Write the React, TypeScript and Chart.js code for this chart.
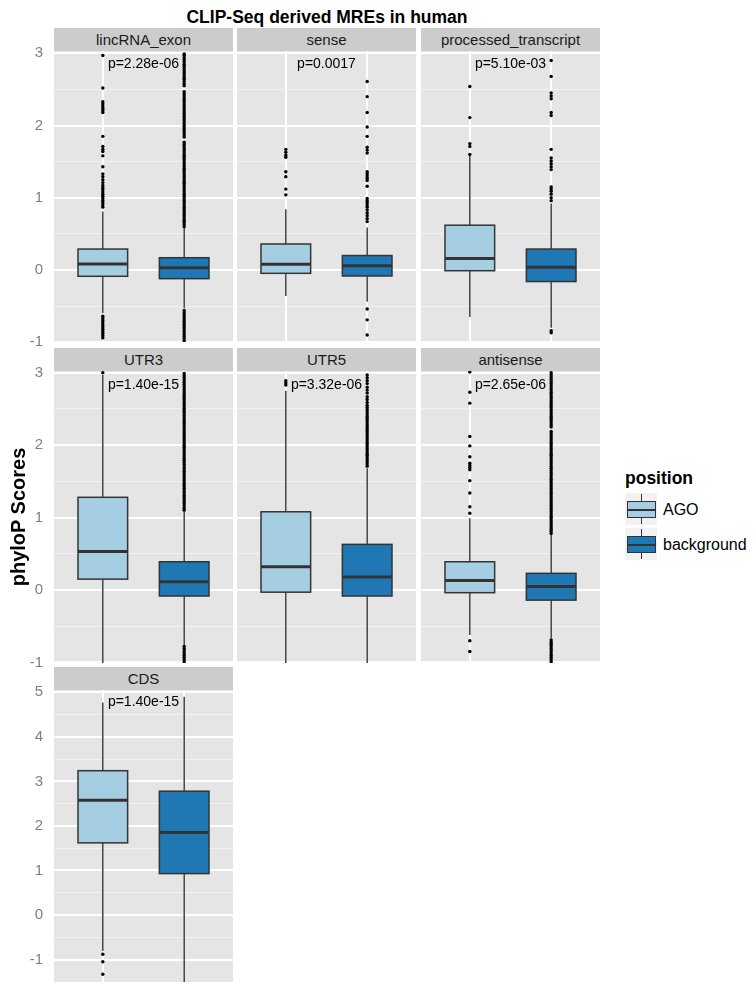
import React, { useEffect, useRef } from 'react';
import { Chart, registerables } from 'chart.js';

Chart.register(...registerables);

const FONT = '"Liberation Sans", Arial, Helvetica, sans-serif';

// ---------------- DATA ----------------
const chartTitle = 'CLIP-Seq derived MREs in human';
const yAxisTitle = 'phyloP Scores';
const legendTitle = 'position';
const groups = ['AGO', 'background'];

const panelNames = ['lincRNA_exon', 'sense', 'processed_transcript', 'UTR3', 'UTR5', 'antisense', 'CDS'];
const pValueLabels = ['p=2.28e-06', 'p=0.0017', 'p=5.10e-03', 'p=1.40e-15', 'p=3.32e-06', 'p=2.65e-06', 'p=1.40e-15'];
const pValueY = [2.85, 2.85, 2.85, 2.83, 2.83, 2.83, 4.79];

// [lower whisker, Q1, median, Q3, upper whisker]
const agoBoxes = [
  [-0.6, -0.087, 0.083, 0.29, 0.81],
  [-0.36, -0.046, 0.079, 0.36, 0.84],
  [-0.65, -0.01, 0.16, 0.62, 1.58],
  [-1.6, 0.15, 0.53, 1.28, 2.97],
  [-1.6, -0.03, 0.32, 1.08, 2.75],
  [-0.62, -0.037, 0.13, 0.39, 0.99],
  [-0.81, 1.62, 2.575, 3.24, 4.77],
];
const bgBoxes = [
  [-0.53, -0.12, 0.03, 0.17, 0.58],
  [-0.44, -0.083, 0.06, 0.2, 0.59],
  [-0.8, -0.16, 0.037, 0.29, 0.92],
  [-0.76, -0.083, 0.115, 0.39, 1.08],
  [-1.2, -0.083, 0.18, 0.63, 1.68],
  [-0.67, -0.14, 0.05, 0.23, 0.76],
  [-1.9, 0.93, 1.85, 2.78, 4.9],
];

const lincAgoOutliers = [2.97, 2.52, 2.33, 2.3, 2.27, 2.24, 2.21, 2.18, 1.85, 1.71, 1.67, 1.64, 1.58, 1.43, 1.33, 1.29, 1.25, 1.21, 1.17, 1.14, 1.11, 1.08, 1.05, 1.02, 0.99, 0.96, 0.93, 0.9, 0.87, -0.64, -0.67, -0.7, -0.73, -0.76, -0.79, -0.82, -0.85, -0.88, -0.91, -0.94];
const lincBgOutliers = [0.6, 0.63, 0.66, 0.69, 0.72, 0.75, 0.78, 0.81, 0.84, 0.87, 0.9, 0.93, 0.96, 0.99, 1.02, 1.05, 1.08, 1.11, 1.14, 1.17, 1.2, 1.23, 1.26, 1.29, 1.32, 1.35, 1.38, 1.41, 1.44, 1.47, 1.5, 1.53, 1.56, 1.59, 1.62, 1.65, 1.68, 1.71, 1.74, 1.77, 1.84, 1.87, 1.9, 1.93, 1.96, 1.99, 2.02, 2.05, 2.08, 2.11, 2.14, 2.17, 2.2, 2.23, 2.26, 2.29, 2.32, 2.35, 2.38, 2.41, 2.44, 2.47, 2.55, 2.58, 2.61, 2.64, 2.67, 2.7, 2.73, 2.76, 2.79, 2.82, 2.85, 2.88, 2.91, 2.94, 2.97, 2.99, -0.56, -0.59, -0.62, -0.65, -0.68, -0.71, -0.74, -0.77, -0.8, -0.83, -0.86, -0.89, -0.92, -0.95, -0.98];
const senseAgoOutliers = [1.67, 1.63, 1.59, 1.56, 1.36, 1.29, 1.12, 1.04];
const senseBgOutliers = [2.61, 2.4, 2.18, 1.98, 1.85, 1.7, 1.66, 1.62, 1.36, 1.33, 1.3, 1.27, 1.24, 1.16, 0.99, 0.96, 0.93, 0.9, 0.87, 0.83, 0.79, 0.75, 0.71, 0.67, -0.54, -0.69, -0.9];
const procAgoOutliers = [2.54, 2.11, 1.75, 1.71, 1.6];
const procBgOutliers = [2.9, 2.68, 2.45, 2.41, 2.37, 2.18, 2.14, 1.67, 1.55, 1.51, 1.47, 1.43, 1.39, 1.15, 1.12, 1.09, 1.05, 1.0, 0.96, -0.84, -0.87];
const utr3AgoOutliers = [3.0];
const utr3BgOutliers = [1.1, 1.13, 1.16, 1.19, 1.22, 1.25, 1.28, 1.31, 1.34, 1.37, 1.4, 1.43, 1.46, 1.49, 1.52, 1.55, 1.58, 1.61, 1.64, 1.67, 1.7, 1.73, 1.76, 1.79, 1.82, 1.85, 1.88, 1.91, 1.94, 1.97, 2.0, 2.03, 2.06, 2.09, 2.12, 2.15, 2.18, 2.21, 2.24, 2.27, 2.3, 2.33, 2.36, 2.39, 2.42, 2.45, 2.48, 2.51, 2.54, 2.57, 2.6, 2.63, 2.66, 2.69, 2.72, 2.75, 2.78, 2.81, 2.84, 2.87, 2.9, 2.93, 2.96, 2.99, -0.78, -0.81, -0.84, -0.87, -0.9, -0.93, -0.96, -0.99];
const utr5AgoOutliers = [2.89, 2.86, 2.83];
const utr5BgOutliers = [2.97, 2.93, 2.89, 2.85, 2.8, 2.76, 2.72, 2.67, 2.63, 2.59, 2.55, 2.52, 2.49, 2.46, 2.43, 2.4, 2.37, 2.34, 2.31, 2.28, 2.25, 2.22, 2.19, 2.16, 2.13, 2.1, 2.07, 2.04, 2.01, 1.98, 1.95, 1.92, 1.89, 1.86, 1.83, 1.8, 1.77, 1.74, 1.71];
const antiAgoOutliers = [3.01, 2.73, 2.58, 2.12, 1.99, 1.84, 1.75, 1.72, 1.69, 1.66, 1.51, 1.34, 1.15, 1.06, -0.7, -0.85];
const antiBgOutliers = [0.78, 0.81, 0.84, 0.87, 0.9, 0.93, 0.96, 0.99, 1.02, 1.05, 1.08, 1.11, 1.14, 1.17, 1.2, 1.23, 1.26, 1.29, 1.32, 1.35, 1.38, 1.41, 1.44, 1.47, 1.5, 1.53, 1.56, 1.59, 1.62, 1.65, 1.68, 1.71, 1.74, 1.77, 1.8, 1.83, 1.86, 1.89, 1.92, 1.95, 1.98, 2.01, 2.04, 2.07, 2.1, 2.13, 2.16, 2.19, 2.25, 2.28, 2.31, 2.34, 2.37, 2.4, 2.43, 2.46, 2.49, 2.52, 2.55, 2.58, 2.61, 2.64, 2.67, 2.7, 2.73, 2.76, 2.79, 2.82, 2.85, 2.88, 2.91, 2.94, 2.97, 3.0, -0.69, -0.72, -0.75, -0.78, -0.81, -0.84, -0.87, -0.9, -0.93, -0.96, -0.99];
const cdsAgoOutliers = [-0.88, -1.05, -1.33];
const cdsBgOutliers: number[] = [];

const agoOutliers = [lincAgoOutliers, senseAgoOutliers, procAgoOutliers, utr3AgoOutliers, utr5AgoOutliers, antiAgoOutliers, cdsAgoOutliers];
const bgOutliers = [lincBgOutliers, senseBgOutliers, procBgOutliers, utr3BgOutliers, utr5BgOutliers, antiBgOutliers, cdsBgOutliers];

const rowYMin = [-0.997, -1.008, -1.504];
const rowYMax = [3.032, 3.024, 5.052];
const rowMajorTicks = [[-1, 0, 1, 2, 3], [-1, 0, 1, 2, 3], [-1, 0, 1, 2, 3, 4, 5]];
const rowMinorTicks = [[-0.5, 0.5, 1.5, 2.5], [-0.5, 0.5, 1.5, 2.5], [-0.5, 0.5, 1.5, 2.5, 3.5, 4.5]];

// ---------------- STYLE / LAYOUT ----------------
const groupColors = ['#A6CEE3', '#1F78B4'];
const colX = [54, 237, 421];
const colW = 179;
const plotTop = [51, 371, 690];
const plotBottom = [342, 663, 982];
const stripH = 23;
const PAD = 26;
const BOX_HALF = 0.305;

const panelPlugin = {
  id: 'panelDeco',
  beforeDraw(chart: any) {
    const { ctx, chartArea } = chart;
    ctx.save();
    ctx.fillStyle = '#E5E5E5';
    ctx.fillRect(chartArea.left, chartArea.top, chartArea.right - chartArea.left, chartArea.bottom - chartArea.top);
    ctx.restore();
  },
  afterDatasetsDraw(chart: any, _args: any, opts: any) {
    const idx = opts.idx as number;
    const { ctx, chartArea } = chart;
    const xs = chart.scales.x;
    const ys = chart.scales.y;
    ctx.save();
    ctx.beginPath();
    ctx.rect(chartArea.left, chartArea.top, chartArea.right - chartArea.left, chartArea.bottom - chartArea.top);
    ctx.clip();
    const stats = [agoBoxes[idx], bgBoxes[idx]];
    stats.forEach((s, g) => {
      const cx = xs.getPixelForValue(g + 1);
      const xl = xs.getPixelForValue(g + 1 - BOX_HALF);
      const xr = xs.getPixelForValue(g + 1 + BOX_HALF);
      const [lo, q1, med, q3, hi] = s.map((v) => ys.getPixelForValue(v));
      ctx.strokeStyle = '#333333';
      ctx.lineWidth = 1.4;
      ctx.beginPath();
      ctx.moveTo(cx, hi);
      ctx.lineTo(cx, q3);
      ctx.moveTo(cx, q1);
      ctx.lineTo(cx, lo);
      ctx.stroke();
      ctx.fillStyle = groupColors[g];
      ctx.fillRect(xl, q3, xr - xl, q1 - q3);
      ctx.lineWidth = 1.5;
      ctx.strokeRect(xl, q3, xr - xl, q1 - q3);
      ctx.lineWidth = 3;
      ctx.beginPath();
      ctx.moveTo(xl, med);
      ctx.lineTo(xr, med);
      ctx.stroke();
    });
    ctx.restore();
    ctx.save();
    ctx.fillStyle = '#000000';
    ctx.font = `14px ${FONT}`;
    ctx.textAlign = 'center';
    ctx.textBaseline = 'middle';
    ctx.fillText(pValueLabels[idx], xs.getPixelForValue(1.5), ys.getPixelForValue(pValueY[idx]));
    ctx.restore();
  },
};

function Panel({ idx }: { idx: number }) {
  const ref = useRef<HTMLCanvasElement>(null);
  const row = Math.floor(idx / 3);
  const col = idx % 3;
  const leftAxis = col === 0;
  const left = leftAxis ? 0 : colX[col];
  const width = leftAxis ? colX[0] + colW : colW;
  const top = plotTop[row] - PAD;
  const height = plotBottom[row] - plotTop[row] + 2 * PAD;

  useEffect(() => {
    if (!ref.current) return;
    const majors = rowMajorTicks[row];
    const minors = rowMinorTicks[row];
    const allTicks = [...majors, ...minors].sort((a, b) => a - b);
    const pointStyle = {
      pointRadius: 1.7,
      pointBorderWidth: 0,
      pointBackgroundColor: '#000000',
      pointBorderColor: '#000000',
      pointHoverRadius: 0,
    };
    const chart = new Chart(ref.current, {
      type: 'scatter',
      data: {
        datasets: [
          { label: groups[0], data: agoOutliers[idx].map((y) => ({ x: 1, y })), ...pointStyle },
          { label: groups[1], data: bgOutliers[idx].map((y) => ({ x: 2, y })), ...pointStyle },
        ],
      },
      options: {
        animation: false,
        responsive: true,
        maintainAspectRatio: false,
        events: [],
        layout: { autoPadding: false, padding: { top: PAD, bottom: PAD, left: 0, right: 0 } },
        plugins: {
          legend: { display: false },
          tooltip: { enabled: false },
          title: { display: false },
          panelDeco: { idx },
        } as any,
        scales: {
          x: {
            type: 'linear',
            min: 0.4,
            max: 2.6,
            border: { display: false },
            grid: { color: '#FFFFFF', lineWidth: 2, drawTicks: false },
            ticks: { display: false },
            afterBuildTicks: (s: any) => {
              s.ticks = [{ value: 1 }, { value: 2 }];
            },
            afterFit: (s: any) => {
              s.height = 0;
            },
          },
          y: {
            type: 'linear',
            min: rowYMin[row],
            max: rowYMax[row],
            border: { display: false },
            grid: {
              drawTicks: false,
              color: (c: any) => (majors.includes(c.tick?.value) ? '#FFFFFF' : '#F2F2F2'),
              lineWidth: (c: any) => (majors.includes(c.tick?.value) ? 2 : 1),
            },
            ticks: {
              display: leftAxis,
              autoSkip: false,
              padding: 11,
              color: '#7F7F7F',
              font: { family: FONT, size: 15 },
              callback: (v: any) => (majors.includes(Number(v)) ? String(v) : ''),
            },
            afterBuildTicks: (s: any) => {
              s.ticks = allTicks.map((v) => ({ value: v }));
            },
            afterFit: (s: any) => {
              s.width = leftAxis ? colX[0] : 0;
            },
          },
        } as any,
      },
      plugins: [panelPlugin as any],
    });
    return () => chart.destroy();
  }, [idx]);

  return (
    <div style={{ position: 'absolute', left, top, width, height }}>
      <canvas ref={ref} style={{ display: 'block' }} />
    </div>
  );
}

function Strip({ idx }: { idx: number }) {
  const row = Math.floor(idx / 3);
  const col = idx % 3;
  return (
    <div
      style={{
        position: 'absolute',
        left: colX[col],
        top: plotTop[row] - stripH,
        width: colW,
        height: stripH,
        background: '#CCCCCC',
        color: '#1A1A1A',
        fontSize: 15,
        lineHeight: `${stripH}px`,
        textAlign: 'center',
        fontFamily: FONT,
        whiteSpace: 'nowrap',
      }}
    >
      {panelNames[idx]}
    </div>
  );
}

function LegendKey({ g, top }: { g: number; top: number }) {
  return (
    <div style={{ position: 'absolute', left: 624, top, width: 34, height: 34, background: '#F2F2F2', boxSizing: 'border-box', border: '1px solid #FFFFFF' }}>
      <div style={{ position: 'absolute', left: 16, top: 1, width: 1.3, height: 30, background: '#333333' }} />
      <div
        style={{
          position: 'absolute',
          left: 2,
          top: 8,
          width: 29,
          height: 17,
          background: groupColors[g],
          border: '1.4px solid #333333',
          boxSizing: 'border-box',
        }}
      />
      <div style={{ position: 'absolute', left: 2, top: 15.5, width: 29, height: 2, background: '#333333' }} />
    </div>
  );
}

export default function App() {
  return (
    <div style={{ position: 'absolute', left: 0, top: 0, width: 756, height: 992, background: '#FFFFFF', fontFamily: FONT, overflow: 'hidden' }}>
      <div
        style={{
          position: 'absolute',
          left: colX[0],
          top: 7,
          width: colX[2] + colW - colX[0],
          height: 20,
          lineHeight: '20px',
          textAlign: 'center',
          fontWeight: 'bold',
          fontSize: 17.5,
          color: '#000000',
          whiteSpace: 'nowrap',
        }}
      >
        {chartTitle}
      </div>
      {panelNames.map((_, i) => (
        <Strip key={'s' + i} idx={i} />
      ))}
      {panelNames.map((_, i) => (
        <Panel key={'p' + i} idx={i} />
      ))}
      <div
        style={{
          position: 'absolute',
          left: 17.5 - 150,
          top: 517 - 12,
          width: 300,
          height: 24,
          lineHeight: '24px',
          textAlign: 'center',
          fontWeight: 'bold',
          fontSize: 20,
          color: '#000000',
          transform: 'rotate(-90deg)',
          whiteSpace: 'nowrap',
        }}
      >
        {yAxisTitle}
      </div>
      <div style={{ position: 'absolute', left: 625, top: 467, height: 22, lineHeight: '22px', fontWeight: 'bold', fontSize: 17.5, color: '#000000' }}>
        {legendTitle}
      </div>
      <LegendKey g={0} top={492} />
      <LegendKey g={1} top={527} />
      <div style={{ position: 'absolute', left: 663, top: 499, height: 22, lineHeight: '22px', fontSize: 16, color: '#000000' }}>{groups[0]}</div>
      <div style={{ position: 'absolute', left: 663, top: 534, height: 22, lineHeight: '22px', fontSize: 16, color: '#000000' }}>{groups[1]}</div>
    </div>
  );
}
